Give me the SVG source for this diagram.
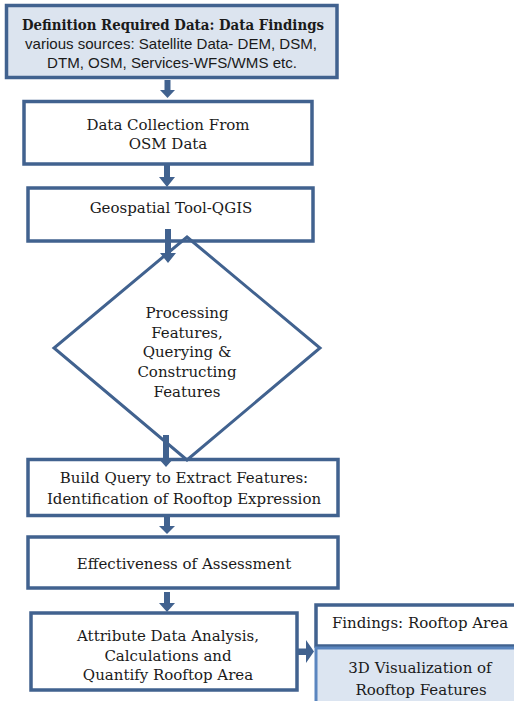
<svg xmlns="http://www.w3.org/2000/svg" width="514" height="701" viewBox="0 0 514 701">
<style>
.box{fill:#ffffff;stroke:#41628f;stroke-width:3.5}
.hdr{fill:#dce4ef;stroke:#41628f;stroke-width:3.5}
.viz{fill:#dce5f1;stroke:#5b86bf;stroke-width:3}
.dia{fill:none;stroke:#41628f;stroke-width:3}
.arr{fill:#41628f;stroke:none}
.t{font-family:"DejaVu Serif","Liberation Serif",serif;font-size:15px;fill:#1a1a1a;text-anchor:middle}
.tb{font-family:"DejaVu Serif","Liberation Serif",serif;font-size:15px;font-weight:bold;fill:#1a1a1a;text-anchor:middle}
.ts{font-family:"Liberation Sans","DejaVu Sans",sans-serif;font-size:15px;fill:#1a1a1a;text-anchor:middle}
</style>
<rect width="514" height="701" fill="#ffffff"/>
<g id="n1">
<rect class="hdr" x="6.5" y="5.5" width="330.5" height="72"/>
<text class="tb" x="173" y="30" textLength="302" lengthAdjust="spacingAndGlyphs">Definition Required Data: Data Findings</text>
<text class="ts" x="171" y="49" textLength="292" lengthAdjust="spacingAndGlyphs">various sources: Satellite Data- DEM, DSM,</text>
<text class="ts" x="172" y="68" textLength="250" lengthAdjust="spacingAndGlyphs">DTM, OSM, Services-WFS/WMS etc.</text>
</g>
<g id="n2">
<rect class="box" x="24" y="101.5" width="288" height="62.5"/>
<text class="t" x="168" y="130">Data Collection From</text>
<text class="t" x="168" y="149">OSM Data</text>
</g>
<g id="n3">
<rect class="box" x="28" y="188" width="285" height="53"/>
<text class="t" x="171" y="213">Geospatial Tool-QGIS</text>
</g>
<g id="n4">
<rect class="box" x="28" y="459.5" width="310" height="56"/>
<text class="t" x="184" y="483">Build Query to Extract Features:</text>
<text class="t" x="184" y="504">Identification of Rooftop Expression</text>
</g>
<g id="n5">
<rect class="box" x="28" y="537" width="310" height="51"/>
<text class="t" x="184" y="569">Effectiveness of Assessment</text>
</g>
<g id="n6">
<rect class="box" x="31" y="613" width="266" height="77"/>
<text class="t" x="168" y="641">Attribute Data Analysis,</text>
<text class="t" x="168" y="661">Calculations and</text>
<text class="t" x="168" y="680">Quantify Rooftop Area</text>
</g>
<g id="n7">
<rect class="box" x="316" y="605" width="210" height="41"/>
<text class="t" x="420" y="628">Findings: Rooftop Area</text>
</g>
<g id="n8">
<rect class="viz" x="316" y="648" width="210" height="70"/>
<text class="t" x="420" y="673">3D Visualization of</text>
<text class="t" x="421" y="695">Rooftop Features</text>
</g>
<g id="diamond">
<polygon class="dia" points="187,237 320,348 187,460 54,348"/>
<text class="t" x="187" y="318">Processing</text>
<text class="t" x="187" y="337.5">Features,</text>
<text class="t" x="187" y="357">Querying &amp;</text>
<text class="t" x="187" y="377">Constructing</text>
<text class="t" x="187" y="397">Features</text>
</g>
<g id="connectors">
<polygon class="arr" points="164.5,80 170.5,80 170.5,90 175,90 167.5,98 160,90 164.5,90"/>
<polygon class="arr" points="164,165 170,165 170,177 175,177 167,187 159,177 164,177"/>
<polygon class="arr" points="165,229 171,229 171,253 176,253 168,263 160,253 165,253"/>
<polygon class="arr" points="163,435 169,435 169,458 174,458 166,467 158,458 163,458"/>
<polygon class="arr" points="164,517 170,517 170,526 175,526 167,534 159,526 164,526"/>
<polygon class="arr" points="164,592 170,592 170,603 175,603 167,612 159,603 164,603"/>
<polygon class="arr" points="298,648.5 306,648.5 306,640 314,651.5 306,663 306,655 298,655"/>
</g>
</svg>
